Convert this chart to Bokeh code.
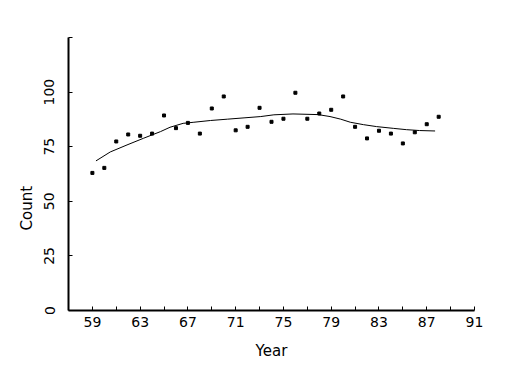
from bokeh.plotting import figure
from bokeh.models import FixedTicker, Range1d, Title
from bokeh.embed import file_html
from bokeh.resources import INLINE

years = list(range(59, 89))
counts = [63.0, 65.3, 77.4, 80.6, 80.0, 81.0, 89.3, 83.5, 85.9, 81.0,
          92.5, 98.0, 82.5, 84.1, 92.8, 86.4, 87.8, 99.7, 87.8, 90.2,
          91.9, 98.0, 84.1, 78.8, 82.3, 81.0, 76.5, 81.6, 85.3, 88.7]

smooth_years = [59.3, 60.5, 61.9, 63.3, 64.7, 65.5, 66.6, 67.5, 68.9, 70.3,
                71.7, 73.1, 74.2, 75.8, 77.9, 78.9, 79.8, 80.6, 81.7, 82.8,
                84.2, 85.3, 86.4, 87.7]
smooth_counts = [68.5, 72.6, 75.8, 78.9, 81.9, 83.9, 85.7, 86.2, 87.0, 87.6,
                 88.2, 88.8, 89.6, 90.0, 89.7, 88.8, 87.6, 86.2, 85.1, 84.2,
                 83.4, 82.8, 82.4, 82.2]

x_major = [59, 63, 67, 71, 75, 79, 83, 87, 91]
x_minor = [61, 65, 69, 73, 77, 81, 85, 89]
y_major = [0, 25, 50, 75, 100, 125]

FONT = "DejaVu Sans"

p = figure(output_backend="svg", toolbar_location=None,
           frame_width=406, frame_height=273,
           min_border_left=68, min_border_right=30,
           min_border_top=37, min_border_bottom=58,
           x_range=Range1d(57, 91), y_range=Range1d(0, 125))
p.outline_line_color = None
p.xgrid.visible = False
p.ygrid.visible = False
p.background_fill_color = "white"
p.border_fill_color = "white"

p.line(smooth_years, smooth_counts, line_color="black", line_width=1)
p.square(years, counts, size=3, color="black")

xa = p.xaxis[0]
xa.ticker = FixedTicker(ticks=x_major, minor_ticks=x_minor)
xa.axis_line_width = 2
xa.axis_line_color = "black"
xa.major_tick_in = 4
xa.major_tick_out = 0
xa.minor_tick_in = 4
xa.minor_tick_out = 0
xa.major_label_text_font = FONT
xa.major_label_text_font_size = "14px"
xa.major_label_text_color = "black"
xa.major_label_standoff = 6
xa.axis_label = "Year"
xa.axis_label_text_font = FONT
xa.axis_label_text_font_size = "15px"
xa.axis_label_text_font_style = "normal"
xa.axis_label_text_color = "black"
xa.axis_label_standoff = 12

ya = p.yaxis[0]
ya.ticker = FixedTicker(ticks=y_major, minor_ticks=[])
ya.major_label_overrides = {125: ""}
ya.axis_line_width = 2
ya.axis_line_color = "black"
ya.major_tick_in = 4
ya.major_tick_out = 0
ya.minor_tick_in = 0
ya.minor_tick_out = 0
ya.major_label_orientation = "vertical"
ya.major_label_text_font = FONT
ya.major_label_text_font_size = "14px"
ya.major_label_text_color = "black"
ya.major_label_standoff = 14

ylab = Title(text="Count", align="left", offset=80,
             text_font=FONT, text_font_size="15px",
             text_font_style="normal", text_color="black", standoff=12)
p.add_layout(ylab, "left")

open("out.html", "w").write(file_html(p, INLINE))
